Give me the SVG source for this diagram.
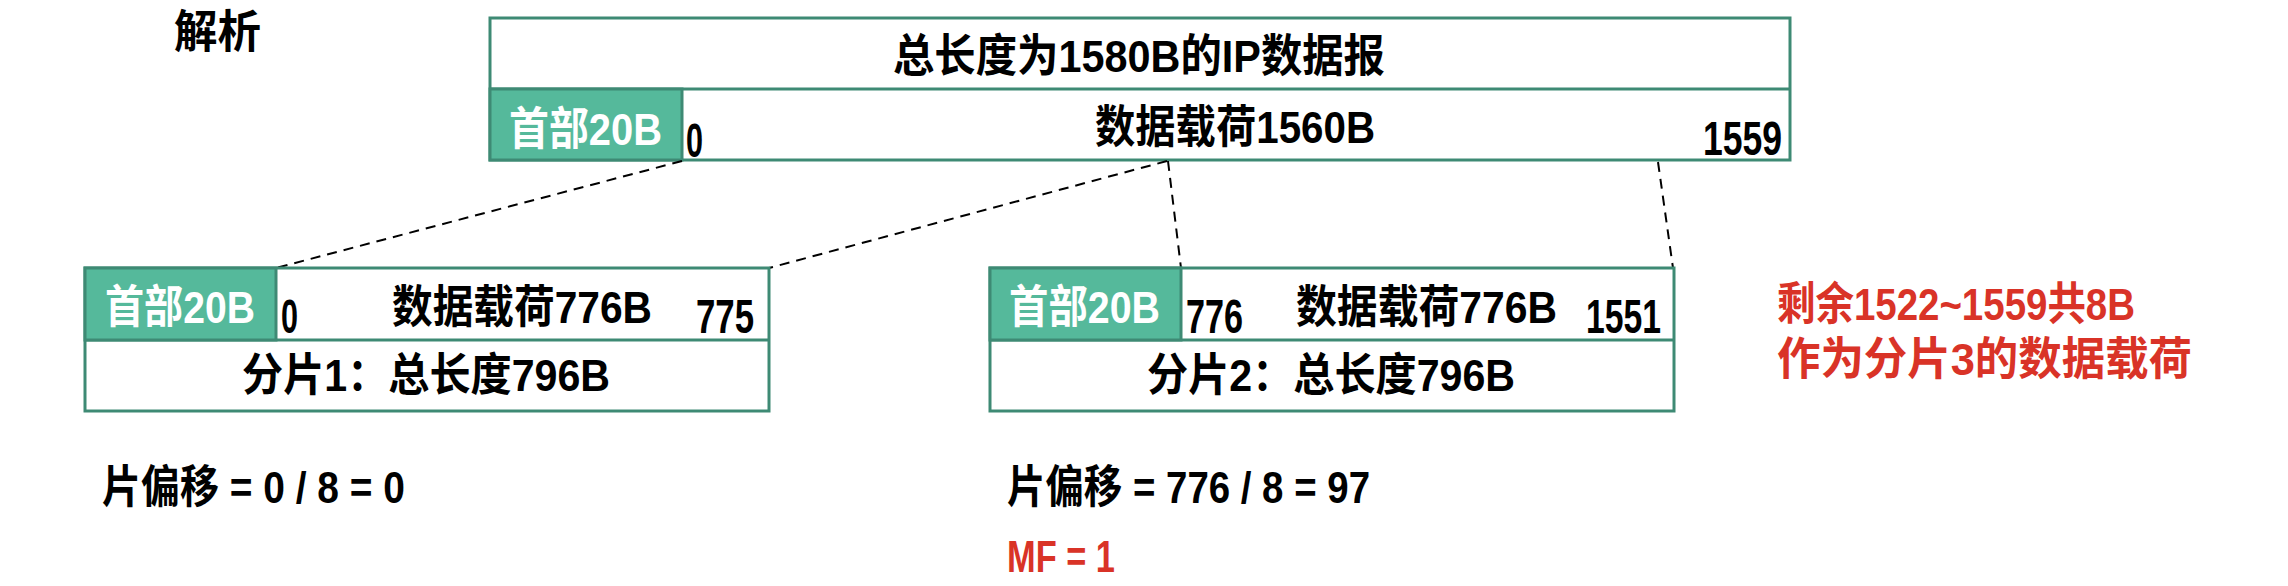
<svg xmlns="http://www.w3.org/2000/svg" width="2288" height="586" viewBox="0 0 2288 586">
<style>
.t{font-family:"Liberation Sans","Noto Sans CJK SC",sans-serif;font-weight:bold;font-size:45px;fill:#000}
.n{font-size:48px}
.w{fill:#fff}
.r{fill:#D93327}
.box{fill:#fff;stroke:#3E8A74;stroke-width:3}
.hdr{fill:#55B99B;stroke:#3E8A74;stroke-width:3}
.ln{stroke:#3E8A74;stroke-width:3}
.dash{stroke:#000;stroke-width:2;stroke-dasharray:10 7;fill:none}
</style>
<rect width="2288" height="586" fill="#fff"/>
<text class="t" x="174" y="48" textLength="87" lengthAdjust="spacingAndGlyphs">解析</text>

<g id="datagram">
<rect class="box" x="490" y="18" width="1300" height="142"/>
<line class="ln" x1="490" y1="89" x2="1790" y2="89"/>
<rect class="hdr" x="490" y="89" width="192" height="71"/>
<text class="t" x="893" y="72" font-size="47" textLength="492" lengthAdjust="spacingAndGlyphs">总长度为1580B的IP数据报</text>
<text class="t w" x="509" y="145" textLength="153" lengthAdjust="spacingAndGlyphs">首部20B</text>
<text class="t n" x="686" y="157" textLength="17" lengthAdjust="spacingAndGlyphs">0</text>
<text class="t" x="1095" y="143" textLength="280" lengthAdjust="spacingAndGlyphs">数据载荷1560B</text>
<text class="t n" x="1703" y="155" textLength="79" lengthAdjust="spacingAndGlyphs">1559</text>
</g>

<g id="connectors">
<line class="dash" x1="682" y1="161" x2="276" y2="268"/>
<line class="dash" x1="1167" y1="161" x2="769" y2="268"/>
<line class="dash" x1="1168" y1="161" x2="1181" y2="268"/>
<line class="dash" x1="1658" y1="162" x2="1673" y2="268"/>
</g>

<g id="fragment1">
<rect class="box" x="85" y="268" width="684" height="143"/>
<line class="ln" x1="85" y1="340" x2="769" y2="340"/>
<rect class="hdr" x="85" y="268" width="191" height="72"/>
<text class="t w" x="105" y="323" textLength="150" lengthAdjust="spacingAndGlyphs">首部20B</text>
<text class="t n" x="281" y="333" textLength="17" lengthAdjust="spacingAndGlyphs">0</text>
<text class="t" x="392" y="323" textLength="260" lengthAdjust="spacingAndGlyphs">数据载荷776B</text>
<text class="t n" x="696" y="333" textLength="58" lengthAdjust="spacingAndGlyphs">775</text>
<text class="t" x="242" y="391" textLength="368" lengthAdjust="spacingAndGlyphs">分片1：总长度796B</text>
</g>

<g id="fragment2">
<rect class="box" x="990" y="268" width="684" height="143"/>
<line class="ln" x1="990" y1="340" x2="1674" y2="340"/>
<rect class="hdr" x="990" y="268" width="191" height="72"/>
<text class="t w" x="1009" y="323" textLength="151" lengthAdjust="spacingAndGlyphs">首部20B</text>
<text class="t n" x="1186" y="333" textLength="57" lengthAdjust="spacingAndGlyphs">776</text>
<text class="t" x="1296" y="323" textLength="261" lengthAdjust="spacingAndGlyphs">数据载荷776B</text>
<text class="t n" x="1586" y="333" textLength="75" lengthAdjust="spacingAndGlyphs">1551</text>
<text class="t" x="1147" y="391" textLength="368" lengthAdjust="spacingAndGlyphs">分片2：总长度796B</text>
</g>

<g id="remainder">
<text class="t r" x="1777" y="320" textLength="358" lengthAdjust="spacingAndGlyphs">剩余1522~1559共8B</text>
<text class="t r" x="1777" y="375" textLength="415" lengthAdjust="spacingAndGlyphs">作为分片3的数据载荷</text>
</g>

<g id="offsets">
<text class="t" x="102" y="503" textLength="303" lengthAdjust="spacingAndGlyphs">片偏移 = 0 / 8 = 0</text>
<text class="t" x="1007" y="503" textLength="363" lengthAdjust="spacingAndGlyphs">片偏移 = 776 / 8 = 97</text>
<text class="t r" x="1007" y="572" textLength="108" lengthAdjust="spacingAndGlyphs">MF = 1</text>
</g>
</svg>
